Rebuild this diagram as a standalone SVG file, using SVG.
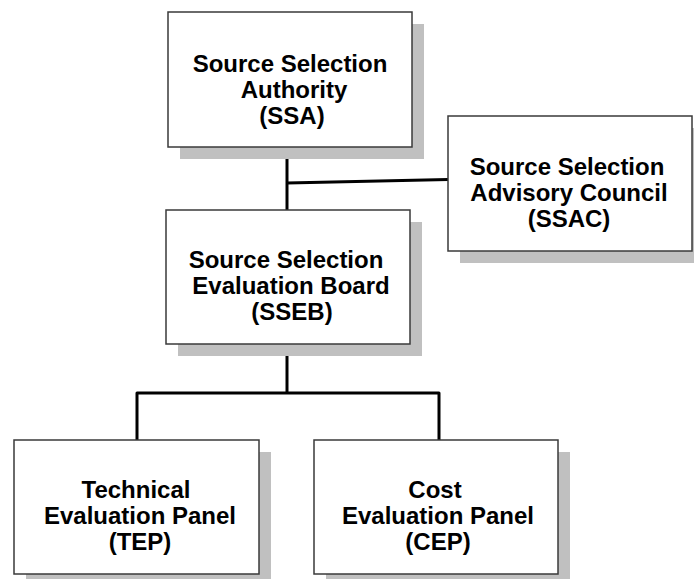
<svg xmlns="http://www.w3.org/2000/svg" width="694" height="579" viewBox="0 0 694 579">
<style>
.shadow{fill:#c0c0c0;stroke:none}
.box{fill:#ffffff;stroke:#3a3a3a;stroke-width:1.5}
.lbl{font-family:"Liberation Sans",Arial,sans-serif;font-weight:bold;font-size:24px;fill:#000;text-anchor:middle}
.conn{fill:none;stroke:#000;stroke-width:3;stroke-linejoin:round}
</style>
<rect width="694" height="579" fill="#ffffff"/>
<g id="connectors">
<line class="conn" x1="287" y1="150" x2="287" y2="210"/>
<line class="conn" x1="287" y1="183" x2="448" y2="179.5"/>
<line class="conn" x1="287" y1="350" x2="287" y2="393"/>
<path class="conn" d="M137,440 V393 H439 V440"/>
</g>
<g id="ssa">
<rect class="shadow" x="180" y="24" width="244" height="135"/>
<rect class="box" x="168" y="12" width="244" height="135"/>
<text class="lbl" x="290" y="72">Source Selection</text>
<text class="lbl" x="294" y="98">Authority</text>
<text class="lbl" x="292" y="124">(SSA)</text>
</g>
<g id="ssac">
<rect class="shadow" x="460" y="128" width="244" height="135"/>
<rect class="box" x="448" y="116" width="244" height="135"/>
<text class="lbl" x="567" y="175">Source Selection</text>
<text class="lbl" x="569" y="201">Advisory Council</text>
<text class="lbl" x="569" y="227">(SSAC)</text>
</g>
<g id="sseb">
<rect class="shadow" x="178" y="222" width="244" height="134"/>
<rect class="box" x="166" y="210" width="244" height="134"/>
<text class="lbl" x="286" y="268">Source Selection</text>
<text class="lbl" x="291" y="294">Evaluation Board</text>
<text class="lbl" x="292" y="320">(SSEB)</text>
</g>
<g id="tep">
<rect class="shadow" x="26" y="452" width="245" height="134"/>
<rect class="box" x="14" y="440" width="245" height="134"/>
<text class="lbl" x="136" y="498">Technical</text>
<text class="lbl" x="140" y="524">Evaluation Panel</text>
<text class="lbl" x="140" y="550">(TEP)</text>
</g>
<g id="cep">
<rect class="shadow" x="326" y="452" width="244" height="134"/>
<rect class="box" x="314" y="440" width="244" height="134"/>
<text class="lbl" x="435" y="498">Cost</text>
<text class="lbl" x="438" y="524">Evaluation Panel</text>
<text class="lbl" x="438" y="550">(CEP)</text>
</g>
</svg>
